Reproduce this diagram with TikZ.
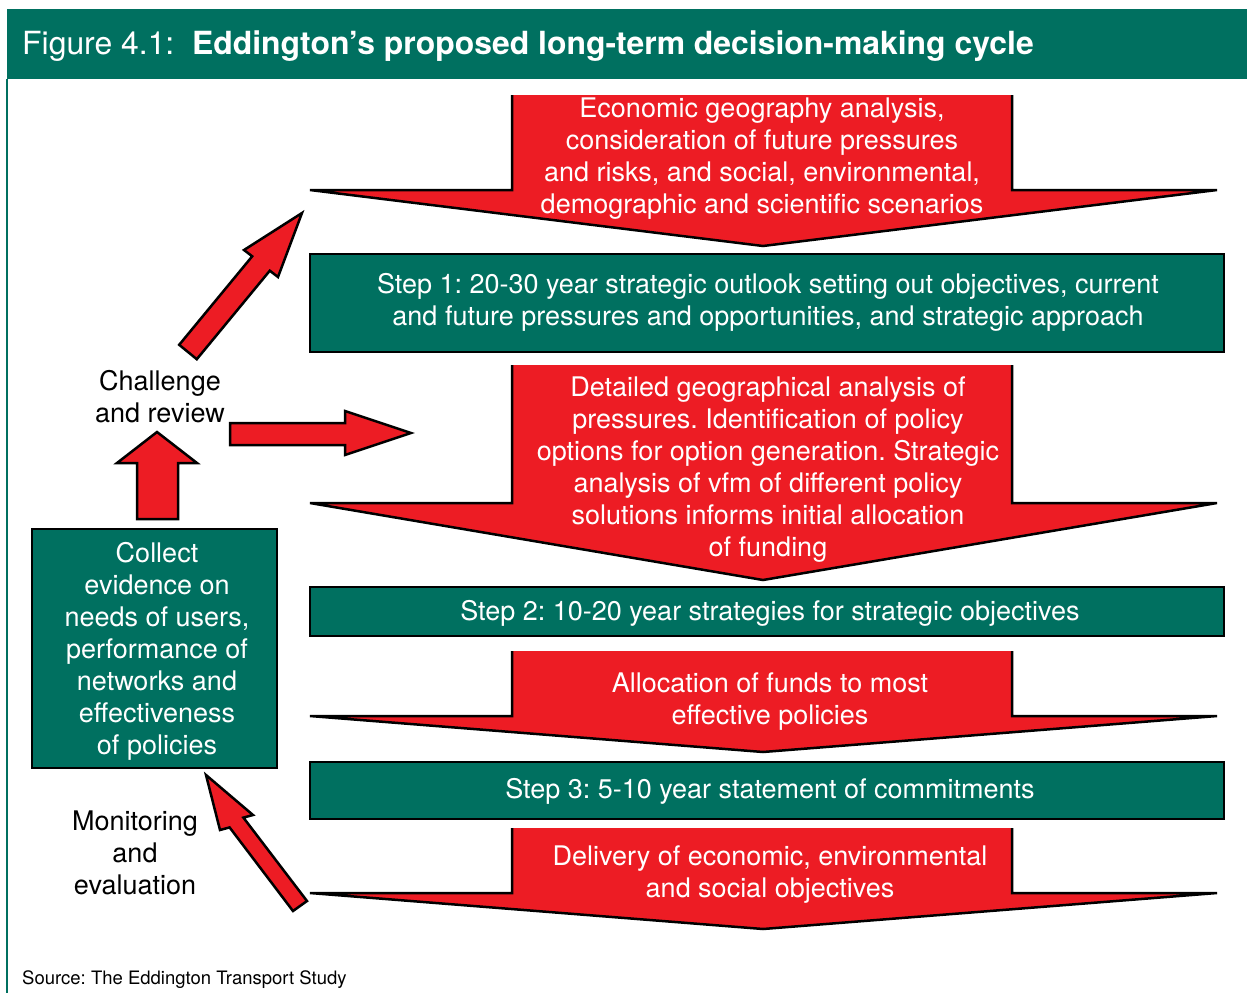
\documentclass[tikz,border=0pt]{standalone}
\usepackage{fontspec}
\setmainfont{TeX Gyre Heros}
\frenchspacing
\definecolor{egreen}{RGB}{0,112,96}
\definecolor{ered}{RGB}{237,28,36}
\newcommand\bigdownarrow[3]{%
  \fill[ered] (512,#1) -- (512,#2) -- (310,#2) -- (763,#3) -- (1217,#2) -- (1012,#2) -- (1012,#1) -- cycle;
  \draw[outl] (512,#1) -- (512,#2) -- (310,#2) -- (763,#3) -- (1217,#2) -- (1012,#2) -- (1012,#1);}
\begin{document}
\begin{tikzpicture}[x=1pt,y=-1pt,
  wtxt/.style={font=\fontsize{27}{32}\selectfont, align=center, text=white, inner sep=0pt},
  btxt/.style={font=\fontsize{27}{32}\selectfont, align=center, text=black, inner sep=0pt},
  outl/.style={draw=black, line width=2.5pt, line join=miter},
  gbox/.style={fill=egreen, draw=black, line width=2.5pt},
  redarrow/.style={fill=ered, draw=black, line width=2.5pt, line join=miter}]
\useasboundingbox (0,0) rectangle (1247,993);
% title bar and frame
\fill[egreen] (7,9) rectangle (1247,79);
\draw[egreen, line width=1.5pt] (7,79) -- (7,993);
\node[anchor=west, text=white, inner sep=0pt, font=\fontsize{31.9}{36}\selectfont] (title) at (22,46)
  {Figure 4.1:\ \ \textbf{Eddington’s proposed long-term decision-making cycle}};
% big down arrows
\bigdownarrow{95}{190}{246}
\bigdownarrow{365}{503}{580}
\bigdownarrow{651}{716}{752}
\bigdownarrow{828}{893}{929}
% green boxes
\draw[gbox] (310,254) rectangle (1224,352);
\draw[gbox] (310,587) rectangle (1224,636);
\draw[gbox] (310,762) rectangle (1224,819);
\draw[gbox] (32,529) rectangle (277,768);
% texts in arrows
\node[wtxt] (a1) at (762,159) {Economic geography analysis,\\consideration of future pressures\\and risks, and social, environmental,\\demographic and scientific scenarios};
\node[wtxt] (a2) at (768,470) {Detailed geographical analysis of\\pressures. Identification of policy\\options for option generation. Strategic\\analysis of vfm of different policy\\solutions informs initial allocation\\of funding};
\node[wtxt] (a3) at (770,702) {Allocation of funds to most\\effective policies};
\node[wtxt] (a4) at (770,875) {Delivery of economic, environmental\\and social objectives};
% texts in boxes
\node[wtxt] (s1) at (768,302) {Step 1: 20-30 year strategic outlook setting out objectives, current\\and future pressures and opportunities, and strategic approach};
\node[wtxt] (s2) at (770,613) {Step 2: 10-20 year strategies for strategic objectives};
\node[wtxt] (s3) at (770,791) {Step 3: 5-10 year statement of commitments};
\node[wtxt] (ev) at (157,651) {Collect\\evidence on\\needs of users,\\performance of\\networks and\\effectiveness\\of policies};
% side labels
\node[btxt] (cr) at (160,397) {Challenge\\and review};
\node[btxt] (me) at (135,853) {Monitoring\\and\\evaluation};
\node[anchor=west, inner sep=0pt, font=\fontsize{18.5}{20}\selectfont] (src) at (22,980) {Source: The Eddington Transport Study};
% small arrows
\draw[redarrow] (137,519) -- (137,463) -- (117,463) -- (157,432) -- (197,463) -- (178,463) -- (178,519) -- cycle;
\draw[redarrow] (230,423) -- (345,423) -- (345,411) -- (411,433) -- (345,455) -- (345,445) -- (230,445) -- cycle;
\draw[redarrow] (179.2,344.8) -- (252.2,256.3) -- (244,250) -- (302,213) -- (278,277) -- (269.8,270.7) -- (196.8,359.2) -- cycle;
\draw[redarrow] (293,911) -- (229.6,827.4) -- (220,830) -- (206,775) -- (253,815) -- (243.4,817.6) -- (307,901) -- cycle;
\end{tikzpicture}
\end{document}
